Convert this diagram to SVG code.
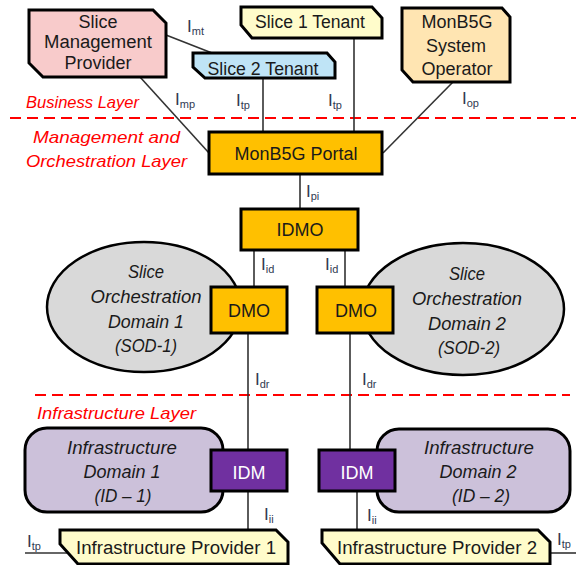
<svg xmlns="http://www.w3.org/2000/svg" width="576" height="565" viewBox="0 0 576 565">
<style>
  .node { stroke: #000; stroke-width: 3; stroke-linejoin: miter; }
  .ell { stroke: #000; stroke-width: 2.5; fill: #D9D9D9; }
  .t { font-family: "Liberation Sans", Arial, sans-serif; font-size: 18px; fill: #1a1a1a; text-anchor: middle; }
  .it { font-style: italic; }
  .w { fill: #ffffff; }
  .layer { font-family: "Liberation Sans", Arial, sans-serif; font-size: 17px; font-style: italic; fill: #FF0000; }
  .conn line { stroke: #333; stroke-width: 1.6; }
  .dash { stroke: #FF0000; stroke-width: 2; stroke-dasharray: 11 6; }
  .if { font-family: "Liberation Sans", Arial, sans-serif; font-size: 17px; fill: #2f3a52; }
  .sub { font-size: 11px; }
</style>

<!-- layer separators -->
<g id="layers">
  <line class="dash" x1="10" y1="118" x2="576" y2="118"/>
  <line class="dash" x1="35" y1="395" x2="570" y2="395"/>
  <text class="layer" x="26" y="108" textLength="113" lengthAdjust="spacingAndGlyphs">Business Layer</text>
  <text class="layer" x="33" y="143" textLength="147" lengthAdjust="spacingAndGlyphs">Management and</text>
  <text class="layer" x="26" y="167" textLength="161" lengthAdjust="spacingAndGlyphs">Orchestration Layer</text>
  <text class="layer" x="37" y="419" textLength="159" lengthAdjust="spacingAndGlyphs">Infrastructure Layer</text>
</g>

<!-- connectors -->
<g id="connectors" class="conn">
  <line x1="166" y1="35" x2="212" y2="53"/>
  <line x1="140" y1="77" x2="209" y2="153"/>
  <line x1="263" y1="78" x2="263" y2="132"/>
  <line x1="354" y1="38" x2="354" y2="132"/>
  <line x1="453" y1="82" x2="383" y2="153"/>
  <line x1="300" y1="174" x2="300" y2="209"/>
  <line x1="254" y1="250" x2="254" y2="287"/>
  <line x1="345" y1="250" x2="345" y2="287"/>
  <line x1="248" y1="333" x2="248" y2="450"/>
  <line x1="350" y1="333" x2="350" y2="450"/>
  <line x1="248" y1="491" x2="248" y2="530"/>
  <line x1="357" y1="491" x2="357" y2="530"/>
  <line x1="25" y1="553" x2="68" y2="553"/>
  <line x1="550" y1="553" x2="576" y2="553"/>
</g>

<!-- interface labels -->
<g id="interface-labels">
  <text class="if" x="187" y="32">I<tspan class="sub" dy="3">mt</tspan></text>
  <text class="if" x="175" y="105">I<tspan class="sub" dy="3">mp</tspan></text>
  <text class="if" x="236" y="106">I<tspan class="sub" dy="3">tp</tspan></text>
  <text class="if" x="328" y="106">I<tspan class="sub" dy="3">tp</tspan></text>
  <text class="if" x="462" y="104">I<tspan class="sub" dy="3">op</tspan></text>
  <text class="if" x="306" y="197">I<tspan class="sub" dy="3">pi</tspan></text>
  <text class="if" x="261" y="270">I<tspan class="sub" dy="3">id</tspan></text>
  <text class="if" x="325" y="270">I<tspan class="sub" dy="3">id</tspan></text>
  <text class="if" x="255" y="385">I<tspan class="sub" dy="3">dr</tspan></text>
  <text class="if" x="362" y="385">I<tspan class="sub" dy="3">dr</tspan></text>
  <text class="if" x="264" y="520">I<tspan class="sub" dy="3">ii</tspan></text>
  <text class="if" x="367" y="521">I<tspan class="sub" dy="3">ii</tspan></text>
  <text class="if" x="27" y="547">I<tspan class="sub" dy="3">tp</tspan></text>
  <text class="if" x="557" y="545">I<tspan class="sub" dy="3">tp</tspan></text>
</g>

<g id="slice-management-provider">
  <polygon class="node" fill="#F8CBCB" points="29,10 153,10 166,23 166,77 43,77 29,63"/>
  <text class="t" x="98" y="28">Slice</text>
  <text class="t" x="98" y="48" textLength="108" lengthAdjust="spacingAndGlyphs">Management</text>
  <text class="t" x="98" y="69">Provider</text>
</g>

<g id="slice-1-tenant">
  <polygon class="node" fill="#FFFCCB" points="241,7 372,7 382,18 382,38 252,38 241,25"/>
  <text class="t" x="310" y="28" textLength="110" lengthAdjust="spacingAndGlyphs">Slice 1 Tenant</text>
</g>

<g id="slice-2-tenant">
  <polygon class="node" fill="#BFE4F6" points="193,53 327,53 335,62 335,78 205,78 193,67"/>
  <text class="t" x="263" y="75" textLength="111" lengthAdjust="spacingAndGlyphs">Slice 2 Tenant</text>
</g>

<g id="system-operator">
  <polygon class="node" fill="#FFE5B2" points="402,8 502,8 510,17 510,82 413,82 402,70"/>
  <text class="t" x="457" y="28">MonB5G</text>
  <text class="t" x="456" y="52">System</text>
  <text class="t" x="457" y="75">Operator</text>
</g>

<g id="monb5g-portal">
  <rect class="node" fill="#FFC000" x="209" y="132" width="173" height="42"/>
  <text class="t" x="296" y="160" textLength="123" lengthAdjust="spacingAndGlyphs">MonB5G Portal</text>
</g>

<g id="idmo">
  <rect class="node" fill="#FFC000" x="241" y="209" width="117" height="41"/>
  <text class="t" x="300" y="236">IDMO</text>
</g>

<g id="sod-1">
  <ellipse class="ell" cx="144" cy="307" rx="97" ry="65"/>
  <text class="t it" x="146" y="278" textLength="36" lengthAdjust="spacingAndGlyphs">Slice</text>
  <text class="t it" x="146" y="303" textLength="111" lengthAdjust="spacingAndGlyphs">Orchestration</text>
  <text class="t it" x="146" y="328" textLength="76" lengthAdjust="spacingAndGlyphs">Domain 1</text>
  <text class="t it" x="146" y="352" textLength="62" lengthAdjust="spacingAndGlyphs">(SOD-1)</text>
</g>

<g id="sod-2">
  <ellipse class="ell" cx="463" cy="309" rx="101" ry="66"/>
  <text class="t it" x="467" y="280" textLength="36" lengthAdjust="spacingAndGlyphs">Slice</text>
  <text class="t it" x="467" y="305" textLength="110" lengthAdjust="spacingAndGlyphs">Orchestration</text>
  <text class="t it" x="467" y="330" textLength="78" lengthAdjust="spacingAndGlyphs">Domain 2</text>
  <text class="t it" x="469" y="354" textLength="62" lengthAdjust="spacingAndGlyphs">(SOD-2)</text>
</g>

<g id="dmo-1">
  <rect class="node" fill="#FFC000" x="211" y="287" width="76" height="46"/>
  <text class="t" x="249" y="317">DMO</text>
</g>

<g id="dmo-2">
  <rect class="node" fill="#FFC000" x="317" y="287" width="76" height="46"/>
  <text class="t" x="356" y="317">DMO</text>
</g>

<g id="infra-domain-1">
  <rect class="node" fill="#CCC1DA" x="25" y="428" width="198" height="84" rx="22" ry="22"/>
  <text class="t it" x="122" y="454" textLength="110" lengthAdjust="spacingAndGlyphs">Infrastructure</text>
  <text class="t it" x="122" y="478" textLength="77" lengthAdjust="spacingAndGlyphs">Domain 1</text>
  <text class="t it" x="123" y="502" textLength="57" lengthAdjust="spacingAndGlyphs">(ID – 1)</text>
</g>

<g id="infra-domain-2">
  <rect class="node" fill="#CCC1DA" x="377" y="429" width="193" height="83" rx="22" ry="22"/>
  <text class="t it" x="479" y="454" textLength="110" lengthAdjust="spacingAndGlyphs">Infrastructure</text>
  <text class="t it" x="478" y="478" textLength="77" lengthAdjust="spacingAndGlyphs">Domain 2</text>
  <text class="t it" x="481" y="502" textLength="58" lengthAdjust="spacingAndGlyphs">(ID – 2)</text>
</g>

<g id="idm-1">
  <rect class="node" fill="#7030A0" x="211" y="450" width="76" height="41"/>
  <text class="t w" x="249" y="479">IDM</text>
</g>

<g id="idm-2">
  <rect class="node" fill="#7030A0" x="319" y="450" width="76" height="41"/>
  <text class="t w" x="357" y="479">IDM</text>
</g>

<g id="infra-provider-1">
  <polygon class="node" fill="#FFFCCB" points="60,530 276,530 288,542 288,564 78,564 60,544"/>
  <text class="t" x="176" y="554" textLength="200" lengthAdjust="spacingAndGlyphs">Infrastructure Provider 1</text>
</g>

<g id="infra-provider-2">
  <polygon class="node" fill="#FFFCCB" points="322,530 538,530 550,542 550,564 340,564 322,543"/>
  <text class="t" x="437" y="554" textLength="200" lengthAdjust="spacingAndGlyphs">Infrastructure Provider 2</text>
</g>
</svg>
